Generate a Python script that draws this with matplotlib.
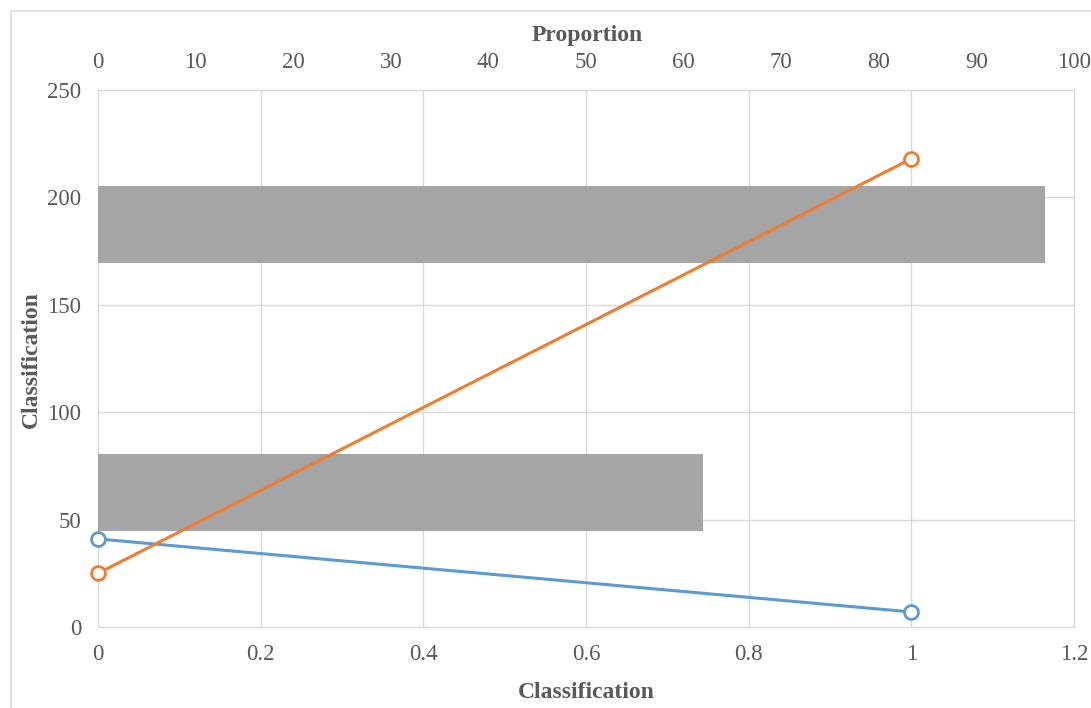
import numpy as np
import matplotlib.pyplot as plt
from matplotlib.patches import Rectangle

# data
line_x = [0, 1]
blue_y = [41, 7]
orange_y = [25, 218]
bar_values = [62, 97]          # proportion (top axis)
y_max = 250
bar_height = 36

plt.rcParams['font.family'] = ['Liberation Serif', 'DejaVu Serif']
grey_txt = '#595959'
grid_c = '#D9D9D9'
W, H = 1091, 708

fig = plt.figure(figsize=(W / 100, H / 100), dpi=100)
rect = [98 / W, 1 - 627 / H, (1074 - 98) / W, (627 - 90) / H]

# base axes: bottom x axis, left y axis, grid
ax = fig.add_axes(rect)
ax.set_xlim(0, 1.2)
ax.set_ylim(0, y_max)
ax.set_xticks(np.arange(0, 1.21, 0.2))
ax.set_xticklabels(['0', '0.2', '0.4', '0.6', '0.8', '1', '1.2'])
ax.set_yticks(np.arange(0, 251, 50))
ax.grid(True, color=grid_c, linewidth=1)
ax.set_axisbelow(True)
for s in ax.spines.values():
    s.set_color(grid_c)
ax.tick_params(length=0, labelsize=16.5, labelcolor=grey_txt)
ax.tick_params(axis='x', pad=12)
ax.tick_params(axis='y', pad=12)
ax.set_xlabel('Classification', fontsize=17, fontweight='bold', color=grey_txt, va='center')
ax.set_ylabel('Classification', fontsize=17, fontweight='bold', color=grey_txt, va='center')
ax.xaxis.set_label_coords(586 / W, 1 - 692 / H, transform=fig.transFigure)
ax.yaxis.set_label_coords(31 / W, 1 - 360 / H, transform=fig.transFigure)

# bars on the top (proportion) axis
axb = ax.twiny()
axb.set_xlim(0, 100)
axb.set_xticks(np.arange(0, 101, 10))
axb.tick_params(length=0, labelsize=16.5, labelcolor=grey_txt, pad=12)
for s in axb.spines.values():
    s.set_visible(False)
axb.set_xlabel('Proportion', fontsize=17, fontweight='bold', color=grey_txt, va='center')
axb.xaxis.set_label_coords(587 / W, 1 - 36 / H, transform=fig.transFigure)
n = len(bar_values)
centers = (np.arange(n) + 0.5) * y_max / n
axb.barh(centers, bar_values, height=bar_height, color='#A5A5A5')

# lines on top of everything
axl = fig.add_axes(rect, sharex=ax, sharey=ax)
axl.axis('off')
axl.patch.set_visible(False)
for y, c in [(blue_y, '#5B9BD5'), (orange_y, '#ED7D31')]:
    axl.plot(line_x, y, color=c, linewidth=2.2, marker='o', markersize=10,
             markerfacecolor='white', markeredgewidth=2, markeredgecolor=c,
             clip_on=False)

# chart border (cropped on right and bottom)
fig.patches.append(Rectangle((11 / W, -0.05), 1.0, 1 - 11 / H + 0.05,
                             transform=fig.transFigure, fill=False,
                             edgecolor='#D9D9D9', linewidth=1.2))

fig.savefig('out.png', dpi=100)
